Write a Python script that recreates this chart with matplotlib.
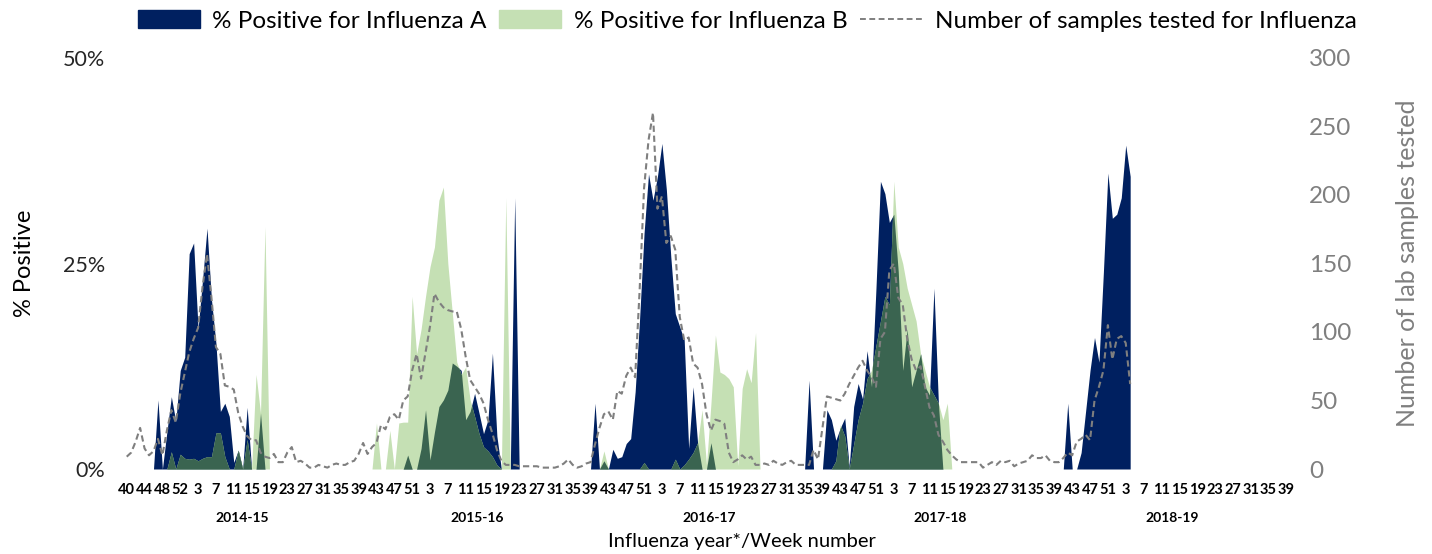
"""Weekly influenza positivity and lab sample counts, 2014-15 to 2018-19."""
import numpy as np
import matplotlib

matplotlib.use("Agg")
import matplotlib.pyplot as plt
from matplotlib.lines import Line2D
from matplotlib.patches import Patch
from matplotlib.transforms import blended_transform_factory

plt.rcParams["font.family"] = ["Lato", "DejaVu Sans"]

NAVY = "#002060"
LIGHT_GREEN = "#C5E0B4"
DARK_GREEN = "#3A6450"
GREY = "#7F7F7F"

# week categories: 2014 w40..53, 2015-2018 w1..52, 2019 w1..39
WEEKS = list(range(40, 54)) + list(range(1, 53)) * 4 + list(range(1, 40))
SEASONS = ["2014-15", "2015-16", "2016-17", "2017-18", "2018-19"]
SEASON_LENGTHS = [53, 52, 52, 52, 52]

# % positive for influenza A, per season
flu_a_1415 = [0, 0, 0, 0, 0, 0, 0, 8.4, 0, 4.5, 8.8, 5.8, 12.0, 13.6, 26.2, 27.5, 17.1, 23.0,
              29.3, 20.6, 15.3, 7.0, 8.0, 6.4, 0.8, 2.3, 0, 7.5, 0, 0, 6.8, 0,
              0, 0, 0, 0, 0, 0, 0, 0, 0, 0, 0, 0, 0, 0, 0, 0, 0, 0, 0, 0, 0]
flu_a_1516 = [0, 0, 0, 0, 0, 0, 0, 0, 0, 0, 1.7, 0, 0, 2.5, 7.2, 1.1, 4.5, 7.6, 8.4, 9.6,
              12.9, 12.5, 12.0, 6.0, 7.0, 9.2, 6.8, 4.3, 6.0, 14.1, 4.0, 0, 0, 0, 33.0, 0,
              0, 0, 0, 0, 0, 0, 0, 0, 0, 0, 0, 0, 0, 0, 0, 0]
flu_a_1617 = [8.0, 0, 1.0, 0, 2.4, 1.3, 1.5, 3.1, 3.7, 9.4, 18.3, 28.7, 35.9, 32.7, 35.6, 39.6,
              34.0, 25.8, 18.9, 17.3, 15.7, 2.5, 10.0, 3.2, 0, 0, 3.2,
              0, 0, 0, 0, 0, 0, 0, 0, 0, 0, 0, 0, 0, 0, 0, 0, 0, 0, 0, 0, 0, 10.8, 0, 0, 0]
flu_a_1718 = [7.2, 6.0, 3.5, 5.0, 6.2, 0.3, 7.6, 10.4, 8.5, 14.4, 10.0, 22.0, 35.0, 33.5, 30.0,
              31.0, 24.0, 12.0, 17.0, 10.0, 12.0, 14.0, 10.0, 9.0, 22.0, 8.0, 0,
              0, 0, 0, 0, 0, 0, 0, 0, 0, 0, 0, 0, 0, 0, 0, 0, 0, 0, 0, 0, 0, 0, 0, 0, 0]
flu_a_1819 = [0, 0, 8.0, 0, 0, 2.0, 7.0, 12.0, 16.0, 13.0, 24.0, 36.0, 30.5, 31.0, 33.0, 39.4, 35.6]

# % positive for influenza B, per season
flu_b_1415 = [0, 0, 0, 0, 0, 0, 0, 0, 0, 0, 2.1, 0, 1.8, 1.3, 1.2, 1.3, 1.0, 1.3, 1.5, 1.5,
              4.4, 4.4, 1.5, 0, 0, 2.3, 0, 3.6, 0, 11.5, 6.8, 29.5, 0,
              0, 0, 0, 0, 0, 0, 0, 0, 0, 0, 0, 0, 0, 0, 0, 0, 0, 0, 0, 0]
flu_b_1516 = [0, 0, 0, 5.6, 0, 0, 4.7, 0, 5.6, 5.7, 5.7, 21.0, 14.0, 17.0, 21.0, 24.6, 27.0,
              32.7, 34.3, 25.0, 19.0, 13.0, 11.5, 12.4, 8.4, 6.4, 4.3, 2.7, 2.2, 1.5, 0.5, 0,
              33.0, 0, 0, 0, 0, 0, 0, 0, 0, 0, 0, 0, 0, 0, 0, 0, 0, 0, 0, 0]
flu_b_1617 = [0, 0, 2.2, 0, 0, 0, 0, 0, 0, 0, 0, 0.8, 0, 0, 0, 0, 0, 0, 1.2, 0, 0.5, 1.2,
              2.0, 3.2, 7.2, 0.5, 8.0, 16.3, 11.8, 11.5, 11.0, 10.0, 0.4, 9.8, 12.2, 10.5, 16.6,
              0, 0, 0, 0, 0, 0, 0, 0, 0, 0, 0, 0, 0, 0, 0]
flu_b_1718 = [0, 0, 1.0, 5.4, 4.0, 0, 3.0, 6.0, 8.0, 11.0, 12.0, 15.0, 18.0, 21.0, 20.0, 35.0,
              27.0, 25.0, 22.0, 20.0, 18.0, 14.0, 12.0, 10.0, 9.0, 8.0, 6.0, 8.0, 0,
              0, 0, 0, 0, 0, 0, 0, 0, 0, 0, 0, 0, 0, 0, 0, 0, 0, 0, 0, 0, 0, 0, 0]
flu_b_1819 = [0, 0, 0, 0, 0, 0, 0, 0, 0, 0, 0, 0, 0, 0, 0, 0, 0]

# number of lab samples tested, per season
samples_1415 = [9, 12, 20, 30, 15, 10, 13, 22, 10, 28, 43, 34, 55, 70, 85, 95, 103, 133, 157, 125,
                89, 84, 61, 60, 58, 41, 31, 24, 21, 21, 12, 9, 8, 11, 5, 5, 12, 16, 5, 6,
                4, 1, 1, 3, 2, 1, 3, 4, 3, 3, 5, 6, 11]
samples_1516 = [19, 11, 16, 19, 32, 29, 38, 40, 36, 50, 53, 72, 84, 66, 85, 104, 128, 122, 118, 116,
                115, 115, 102, 82, 65, 60, 55, 48, 36, 26, 14, 6, 3, 3, 3, 2, 2, 2, 2, 2,
                1, 1, 1, 1, 2, 4, 7, 3, 1, 2, 4, 5]
samples_1617 = [18, 30, 40, 42, 36, 57, 55, 68, 74, 67, 130, 205, 240, 260, 190, 199, 165, 170, 160, 111,
                94, 96, 77, 74, 62, 40, 28, 36, 35, 33, 12, 5, 7, 10, 7, 9, 3, 3, 4, 3,
                6, 4, 3, 5, 6, 3, 3, 3, 3, 14, 7, 30]
samples_1718 = [53, 52, 51, 50, 55, 62, 68, 74, 79, 72, 67, 60, 95, 100, 145, 150, 125, 120, 95, 80,
                72, 75, 60, 45, 39, 25, 20, 14, 10, 7, 5, 5, 5, 5, 5, 1, 3, 5, 3, 6,
                5, 6, 2, 4, 5, 6, 10, 8, 8, 10, 6, 5]
samples_1819 = [5, 8, 12, 10, 20, 22, 25, 21, 50, 60, 72, 105, 80, 95, 97, 92, 62]


def _series(*parts):
    values = [v for part in parts for v in part]
    values += [np.nan] * (len(WEEKS) - len(values))
    return np.array(values, dtype=float)


def main():
    flu_a = _series(flu_a_1415, flu_a_1516, flu_a_1617, flu_a_1718, flu_a_1819)
    flu_b = _series(flu_b_1415, flu_b_1516, flu_b_1617, flu_b_1718, flu_b_1819)
    samples = _series(samples_1415, samples_1516, samples_1617, samples_1718, samples_1819)
    x = np.arange(len(WEEKS))

    fig = plt.figure(figsize=(14.32, 5.54), dpi=100)
    ax = fig.add_axes([124.5 / 1432, 85 / 554, 1164 / 1432, 411 / 554])

    ax.fill_between(x, 0, flu_a, color=NAVY, lw=0)
    ax.fill_between(x, 0, flu_b, color=LIGHT_GREEN, lw=0)

    # overlap of both areas drawn in a darker green
    ok = ~np.isnan(flu_a) & ~np.isnan(flu_b)
    xf = np.linspace(x[ok][0], x[ok][-1], 20 * int(x[ok][-1]) + 1)
    both = np.minimum(np.interp(xf, x[ok], flu_a[ok]), np.interp(xf, x[ok], flu_b[ok]))
    ax.fill_between(xf, 0, both, color=DARK_GREEN, lw=0)

    ax.set_xlim(-0.5, len(WEEKS) - 0.5)
    ax.set_ylim(0, 50)
    ax.set_yticks([0, 25, 50])
    ax.set_yticklabels(["0%", "25%", "50%"])
    ax.tick_params(axis="y", length=0, pad=14, labelsize=15.5, labelcolor="#262626")
    ticks = x[::4]
    ax.set_xticks(ticks)
    ax.set_xticklabels([str(WEEKS[i]) for i in ticks], fontweight="bold", fontsize=10.5)
    ax.tick_params(axis="x", length=0, pad=10)
    ax.set_ylabel("% Positive", fontsize=17, labelpad=20)

    ax2 = ax.twinx()
    ax2.plot(x, samples, color=GREY, lw=1.5, dashes=(3, 1.8))
    ax2.set_ylim(0, 300)
    ax2.set_yticks(range(0, 301, 50))
    ax2.tick_params(axis="y", length=0, pad=15, labelsize=17.5, labelcolor=GREY)
    ax2.set_ylabel("Number of lab samples tested", fontsize=18, color=GREY, labelpad=32)

    for a in (ax, ax2):
        for spine in a.spines.values():
            spine.set_visible(False)

    trans = blended_transform_factory(ax.transData, ax.transAxes)
    start = 0
    for season, length in zip(SEASONS, SEASON_LENGTHS):
        ax.text(start + (length - 1) / 2, -0.119, season, transform=trans, ha="center",
                va="center", fontsize=10, fontweight="bold")
        start += length

    fig.text(742 / 1432, 1 - 541 / 554, "Influenza year*/Week number", ha="center",
             va="center", fontsize=14.5)

    handles = [
        Patch(color=NAVY, label="% Positive for Influenza A"),
        Patch(color=LIGHT_GREEN, label="% Positive for Influenza B"),
        Line2D([], [], color=GREY, lw=1.4, dashes=(3, 1.8),
               label="Number of samples tested for Influenza"),
    ]
    fig.legend(handles=handles, loc="center", bbox_to_anchor=(747 / 1432, 1 - 21 / 554), ncol=3,
               frameon=False, fontsize=17.5, handlelength=2.55, handleheight=0.74,
               handletextpad=0.53, columnspacing=0.5, borderaxespad=0, borderpad=0)

    fig.savefig("out.png", dpi=100)
    plt.close(fig)


if __name__ == "__main__":
    main()
